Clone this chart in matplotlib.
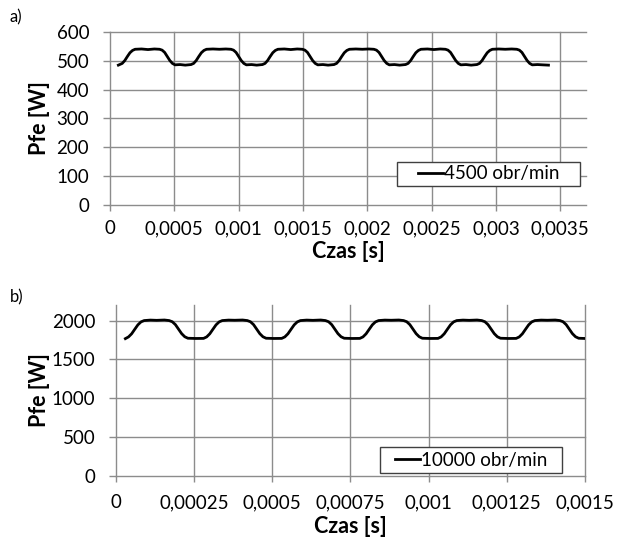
import numpy as np
import matplotlib
matplotlib.use("Agg")
import matplotlib.pyplot as plt
from matplotlib.patches import Rectangle

plt.rcParams['font.family'] = ['Lato', 'DejaVu Sans']

# ---- a) 4500 obr/min : iron loss vs time (time in ms) ----
t_a_ms = [
    0.065,
    0.075, 0.095, 0.115, 0.135, 0.155, 0.175, 0.195, 0.245, 0.295, 0.345,
    0.385, 0.405, 0.425, 0.445, 0.465, 0.485, 0.505, 0.545, 0.585,
    0.630, 0.650, 0.670, 0.690, 0.710, 0.730, 0.750, 0.800, 0.850, 0.900,
    0.940, 0.960, 0.980, 1.000, 1.020, 1.040, 1.060, 1.100, 1.140,
    1.185, 1.205, 1.225, 1.245, 1.265, 1.285, 1.305, 1.355, 1.405, 1.455,
    1.495, 1.515, 1.535, 1.555, 1.575, 1.595, 1.615, 1.655, 1.695,
    1.741, 1.761, 1.781, 1.801, 1.821, 1.841, 1.861, 1.911, 1.961, 2.011,
    2.051, 2.071, 2.091, 2.111, 2.131, 2.151, 2.171, 2.211, 2.251,
    2.297, 2.317, 2.337, 2.357, 2.377, 2.397, 2.417, 2.467, 2.517, 2.567,
    2.607, 2.627, 2.647, 2.667, 2.687, 2.707, 2.727, 2.767, 2.807,
    2.852, 2.872, 2.892, 2.912, 2.932, 2.952, 2.972, 3.022, 3.072, 3.122,
    3.162, 3.182, 3.202, 3.222, 3.242, 3.262, 3.282, 3.322, 3.362,
    3.408,
]
p_a = [
    485,
    487, 491, 501, 515, 528, 536, 540, 541, 539, 541,
    540, 537, 529, 515, 501, 491, 486, 487, 485,
    487, 491, 501, 515, 528, 536, 540, 541, 540, 541,
    540, 537, 529, 515, 501, 491, 486, 487, 485,
    487, 491, 501, 515, 528, 536, 540, 541, 539, 541,
    540, 537, 529, 515, 501, 491, 486, 487, 485,
    487, 491, 501, 515, 528, 536, 540, 541, 540, 541,
    540, 537, 529, 515, 501, 491, 486, 487, 485,
    487, 491, 501, 515, 528, 536, 540, 541, 539, 541,
    540, 537, 529, 515, 501, 491, 486, 487, 485,
    487, 491, 501, 515, 528, 536, 540, 541, 540, 541,
    540, 537, 529, 515, 501, 491, 486, 487, 486,
    485,
]
label_a = "4500 obr/min"
xticks_a = [0, 0.0005, 0.001, 0.0015, 0.002, 0.0025, 0.003, 0.0035]
xticklabels_a = ["0", "0,0005", "0,001", "0,0015", "0,002", "0,0025", "0,003", "0,0035"]
yticks_a = [0, 100, 200, 300, 400, 500, 600]

# ---- b) 10000 obr/min ----
t_b_ms = [
    0.030, 0.040, 0.050, 0.060, 0.070, 0.080, 0.090, 0.110, 0.130, 0.155,
    0.170, 0.180, 0.190, 0.200, 0.210, 0.220, 0.230, 0.255,
    0.280, 0.290, 0.300, 0.310, 0.320, 0.330, 0.340, 0.360, 0.380, 0.405,
    0.420, 0.430, 0.440, 0.450, 0.460, 0.470, 0.480, 0.505,
    0.530, 0.540, 0.550, 0.560, 0.570, 0.580, 0.590, 0.610, 0.630, 0.655,
    0.670, 0.680, 0.690, 0.700, 0.710, 0.720, 0.730, 0.755,
    0.780, 0.790, 0.800, 0.810, 0.820, 0.830, 0.840, 0.860, 0.880, 0.905,
    0.920, 0.930, 0.940, 0.950, 0.960, 0.970, 0.980, 1.005,
    1.030, 1.040, 1.050, 1.060, 1.070, 1.080, 1.090, 1.110, 1.130, 1.155,
    1.170, 1.180, 1.190, 1.200, 1.210, 1.220, 1.230, 1.255,
    1.280, 1.290, 1.300, 1.310, 1.320, 1.330, 1.340, 1.360, 1.380, 1.405,
    1.420, 1.430, 1.440, 1.450, 1.460, 1.470, 1.480, 1.500,
]
p_b = [
    1768, 1790, 1830, 1888, 1945, 1983, 2000, 2006, 2003, 2007,
    2000, 1985, 1948, 1890, 1832, 1792, 1773, 1770,
    1771, 1790, 1830, 1888, 1945, 1983, 2000, 2006, 2004, 2007,
    2000, 1985, 1948, 1890, 1832, 1792, 1773, 1770,
    1771, 1790, 1830, 1888, 1945, 1983, 2000, 2006, 2003, 2007,
    2000, 1985, 1948, 1890, 1832, 1792, 1773, 1770,
    1771, 1790, 1830, 1888, 1945, 1983, 2000, 2006, 2004, 2007,
    2000, 1985, 1948, 1890, 1832, 1792, 1773, 1770,
    1771, 1790, 1830, 1888, 1945, 1983, 2000, 2006, 2003, 2007,
    2000, 1985, 1948, 1890, 1832, 1792, 1773, 1770,
    1771, 1790, 1830, 1888, 1945, 1983, 2000, 2006, 2004, 2007,
    2000, 1985, 1948, 1890, 1832, 1792, 1773, 1770,
]
label_b = "10000 obr/min"
xticks_b = [0, 0.00025, 0.0005, 0.00075, 0.001, 0.00125, 0.0015]
xticklabels_b = ["0", "0,00025", "0,0005", "0,00075", "0,001", "0,00125", "0,0015"]
yticks_b = [0, 500, 1000, 1500, 2000]

GRID = "#8c8c8c"
FS = 13.5
FS_TITLE = 15.5

fig = plt.figure(figsize=(6.17, 5.40), dpi=100)
ax_a = fig.add_axes([0.1783, 0.6204, 0.7715, 0.3204])
ax_b = fig.add_axes([0.188, 0.118, 0.760, 0.3172])


def style(ax, xticks, xlabels, yticks, xlim, ylim, xpad, titlepad):
    ax.set_xlim(*xlim)
    ax.set_ylim(*ylim)
    ax.set_xticks(xticks)
    ax.set_xticklabels(xlabels)
    ax.set_yticks(yticks)
    for s in ax.spines.values():
        s.set_visible(False)
    ax.grid(True, color=GRID, linewidth=1.0)
    ax.set_axisbelow(True)
    ax.tick_params(axis='both', colors=GRID, labelcolor='black', labelsize=FS,
                   width=1.0, direction='out')
    ax.tick_params(axis='y', length=5, pad=10)
    ax.tick_params(axis='x', length=4, pad=xpad)
    ax.set_xlabel("Czas [s]", fontsize=FS_TITLE, fontweight='bold',
                  labelpad=titlepad)
    for gl in ax.get_xgridlines() + ax.get_ygridlines():
        gl.set_clip_on(False)


def legend_box(ax, box, label):
    x0, y0, w, h = box
    ax.add_patch(Rectangle((x0, y0), w, h, transform=ax.transAxes,
                           facecolor='white', edgecolor='#404040',
                           linewidth=1.0, zorder=5, clip_on=False))
    leg = ax.legend([ax.lines[0]], [label], loc='center',
                    bbox_to_anchor=(x0 + w / 2, y0 + h / 2),
                    frameon=False, fontsize=FS, handlelength=1.35,
                    handletextpad=0.05, borderpad=0.0)
    leg.set_zorder(6)


ax_a.plot(np.array(t_a_ms) / 1000.0, p_a, color='black', linewidth=2.0,
          solid_joinstyle='round')
style(ax_a, xticks_a, xticklabels_a, yticks_a, (0, 0.0037), (0, 600), 7, 3)
legend_box(ax_a, (0.603, 0.110, 0.384, 0.140), label_a)

ax_b.plot(np.array(t_b_ms) / 1000.0, p_b, color='black', linewidth=2.0,
          solid_joinstyle='round')
style(ax_b, xticks_b, xticklabels_b, yticks_b, (0, 0.0015), (0, 2200), 9, 3)
legend_box(ax_b, (0.563, 0.019, 0.389, 0.152), label_b)

fig.text(39.5 / 617, 1 - 118 / 540, "Pfe [W]", rotation=90, ha='center',
         va='center', fontsize=FS_TITLE, fontweight='bold')
fig.text(39.5 / 617, 1 - 390 / 540, "Pfe [W]", rotation=90, ha='center',
         va='center', fontsize=FS_TITLE, fontweight='bold')
fig.text(10 / 617, 1 - 17 / 540, "a)", ha='left', va='center', fontsize=12)
fig.text(10 / 617, 1 - 297 / 540, "b)", ha='left', va='center', fontsize=12)

fig.savefig("out.png", dpi=100, facecolor='white')
